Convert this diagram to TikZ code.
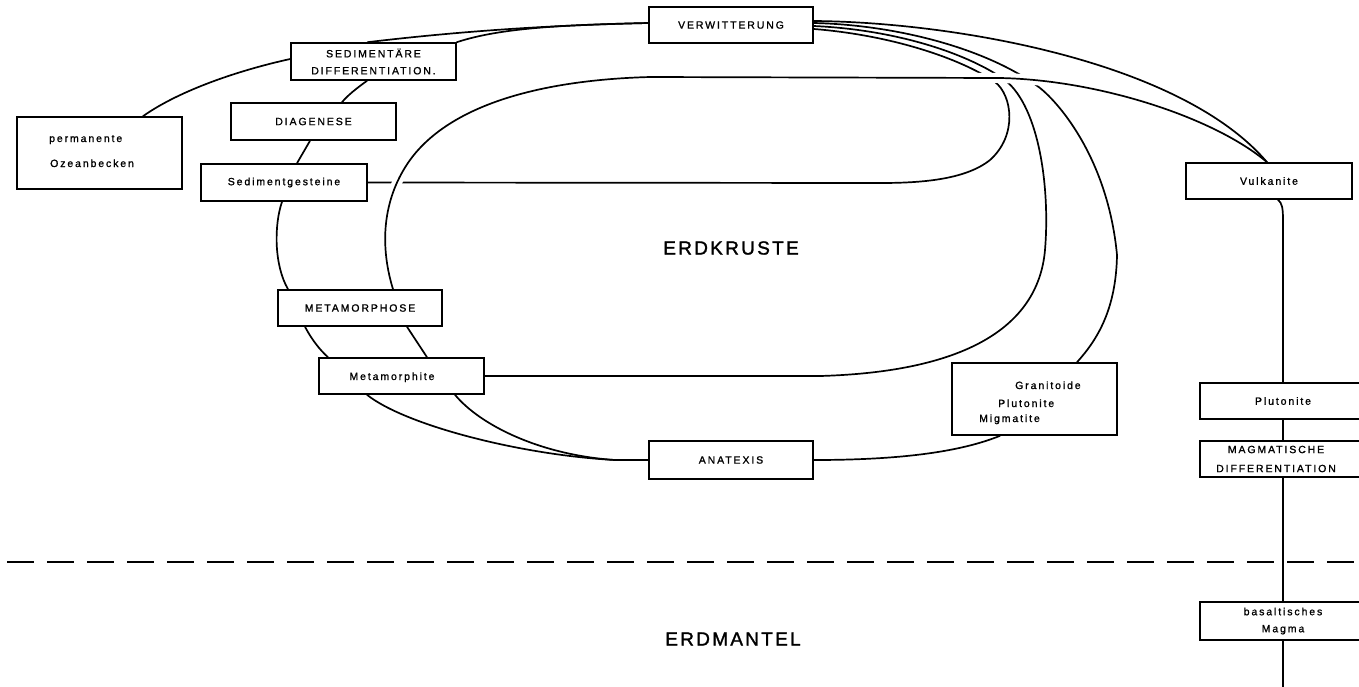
\documentclass[tikz,border=0pt]{standalone}
\usepackage{fontspec}
\usepackage{tikz}
\usetikzlibrary{calc}
\setmainfont{Liberation Sans}
\newfontfamily\labfont[LetterSpace=18,FakeBold=1.2]{Liberation Sans}
\newfontfamily\titlefont[LetterSpace=12,FakeBold=1.5]{Liberation Sans}
\pgfdeclarelayer{bg}
\pgfsetlayers{bg,main}
\tikzset{
  box/.style={draw, line width=1.6pt, fill=white, inner sep=0pt, align=center,
    font=\labfont\fontsize{10.5}{17}\selectfont, minimum width=165, minimum height=36},
  txt/.style={inner sep=0pt, font=\labfont\fontsize{10.5}{17}\selectfont},
  bigtxt/.style={inner sep=0pt, font=\titlefont\fontsize{19}{21}\selectfont},
  conn/.style={line width=1.7pt, line cap=round},
  gapline/.style={white, line width=10pt},
  dashline/.style={line width=2.8pt, dash pattern=on 27pt off 13pt}
}
\begin{document}
\begin{tikzpicture}[x=1pt,y=-1pt]
\useasboundingbox (0,0) rectangle (1359,686);

% boxes
\node[box, minimum width=164] (verw) at (731,25) {VERWITTERUNG};
\node[box, minimum height=37] (sd) at (373.5,61.5) {SEDIMENTÄRE\\DIFFERENTIATION.};
\node[box, minimum height=37] (diag) at (313.5,121.5) {DIAGENESE};
\node[box, minimum height=72] (oz) at (99.5,153) {};
\node[txt, anchor=base west] (ozt1) at (49,142) {permanente};
\node[txt, anchor=base west] (ozt2) at (50,167) {Ozeanbecken};
\node[box, minimum width=166, minimum height=37] (sedg) at (284,182.5) {Sedimentgesteine};
\node[box, minimum width=164] (meta) at (360,308) {METAMORPHOSE};
\node[box] (metaph) at (401.5,376) {};
\node[txt, anchor=base] (metapht) at (392,380) {Metamorphite};
\node[box, minimum width=164, minimum height=38] (anat) at (731,460) {ANATEXIS};
\node[box, minimum height=72] (gran) at (1034.5,399) {};
\node[txt, anchor=base west] (gr1) at (1015,389) {Granitoide};
\node[txt, anchor=base west] (gr2) at (998,407) {Plutonite};
\node[txt, anchor=base west] (gr3) at (979,422) {Migmatite};
\node[box, minimum width=166] (vulk) at (1269,181) {Vulkanite};
\node[box, minimum width=166] (plut) at (1283,401) {Plutonite};
\node[box, minimum width=166] (magm) at (1283,459) {};
\node[txt, align=center, font=\labfont\fontsize{10.5}{19}\selectfont] (magmt) at (1276,459) {MAGMATISCHE\\DIFFERENTIATION};
\node[box, minimum width=166, minimum height=38] (basalt) at (1283,621) {basaltisches\\Magma};

\node[bigtxt] (ek) at (731,248) {ERDKRUSTE};
\node[bigtxt] (em) at (733,639) {ERDMANTEL};

\coordinate (mj) at (615,460);
\coordinate (bot) at (1283,690);
\coordinate (dl) at (7,562);
\coordinate (dr) at (1365,562);

\begin{pgfonlayer}{bg}
% dashed boundary
\draw[dashline] (dl) -- (dr);
% right column
\draw[conn] ([xshift=9]vulk.south) .. controls (1282,203) and (1283,208) .. (1283,220) -- (plut.north);
\draw[conn] (plut.south) -- (magm.north);
\draw[conn] (magm.south) -- (basalt.north);
\draw[conn] (basalt.south) -- (bot);

% curves from VERWITTERUNG passing under the inner loop
\draw[conn] ([yshift=-4]verw.east) .. controls (890,35) and (960,58) .. (995,82)
  .. controls (1012,95) and (1018,135) .. (990,160)
  .. controls (965,180) and (920,183) .. (880,183) -- (sedg.east);
\draw[conn] ([yshift=-1]verw.east) .. controls (900,30) and (970,55) .. (1005,80)
  .. controls (1040,108) and (1050,190) .. (1045,250)
  .. controls (1038,330) and (960,372) .. (820,376) -- (metaph.east);
\draw[conn] ([yshift=2]verw.east) .. controls (900,25) and (990,50) .. (1040,88)
  .. controls (1060,104) and (1108,160) .. (1117,255)
  .. controls (1116,310) and (1097,340) .. ([xshift=42.5]gran.north);

% inner loop (drawn over the crossings)
\draw[gapline] ([xshift=33]meta.north) .. controls (378,240) and (385,195) .. (410,160)
  .. controls (450,105) and (540,80) .. (650,77) -- (1000,78)
  .. controls (1100,80) and (1215,118) .. ([xshift=-2]vulk.north);
\draw[conn] ([xshift=33]meta.north) .. controls (378,240) and (385,195) .. (410,160)
  .. controls (450,105) and (540,80) .. (650,77) -- (1000,78)
  .. controls (1100,80) and (1215,118) .. ([xshift=-2]vulk.north);

% outer arc to Vulkanite
\draw[conn] ([yshift=4]verw.east) .. controls (950,22) and (1180,60) .. ([xshift=-2]vulk.north);

% left part of the cycle
\draw[conn] ([yshift=2]verw.west) .. controls (560,25) and (470,30) .. ([xshift=-6]sd.north);
\draw[conn] ([yshift=2]verw.west) .. controls (560,25) and (500,28) .. (sd.north east);
\draw[conn] ([yshift=2.5]sd.west) .. controls (240,70) and (180,90) .. ([xshift=43.5]oz.north);
\draw[conn] ([xshift=-6.5]sd.south) .. controls (357,88) and (348,95) .. ([xshift=28.5]diag.north);
\draw[conn] ([xshift=-3.5]diag.south) -- ([xshift=13]sedg.north);
\draw[conn] ([xshift=-2]sedg.south) .. controls (274,225) and (274,265) .. ([xshift=-72]meta.north);
\draw[conn] ([xshift=-55]meta.south) .. controls (312,340) and (320,350) .. ([xshift=-73.5]metaph.north);
\draw[conn] ([xshift=47]meta.south) -- ([xshift=25.5]metaph.north);
\draw[conn] ([xshift=-34.5]metaph.south) .. controls (405,425) and (520,455) .. (mj) -- (anat.west);
\draw[conn] ([xshift=53.5]metaph.south) .. controls (480,425) and (540,455) .. (mj);
\draw[conn] (anat.east) .. controls (900,460) and (960,452) .. ([xshift=-34.5]gran.south);
\end{pgfonlayer}
\end{tikzpicture}
\end{document}
